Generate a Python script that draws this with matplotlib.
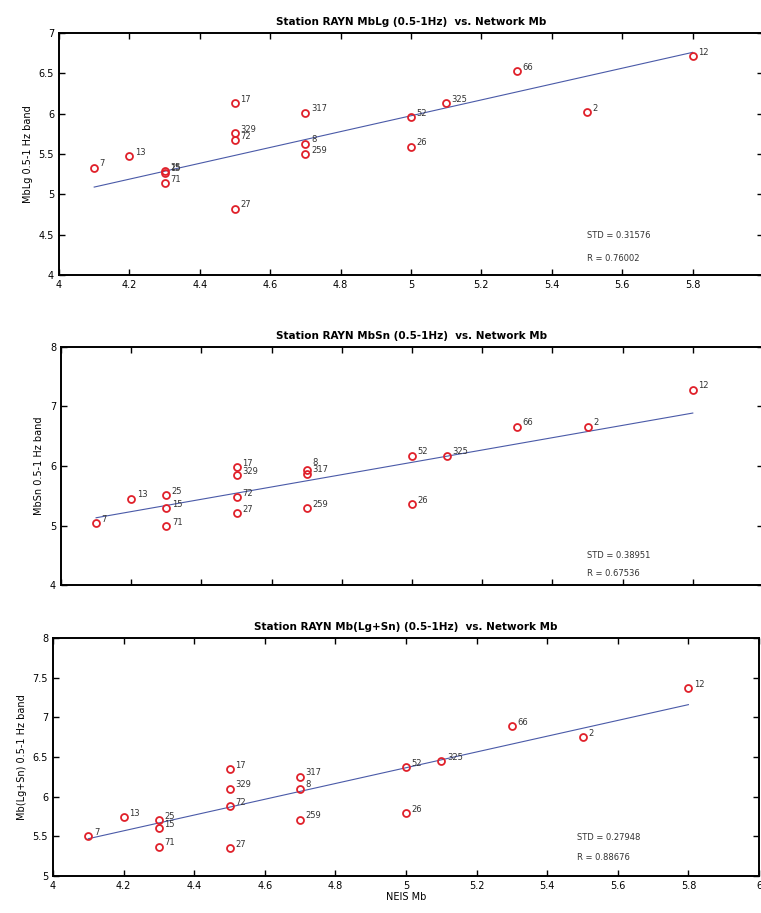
# Station RAYN magnitude comparison, three panels
import numpy as np
import matplotlib.pyplot as plt
from matplotlib.ticker import FormatStrFormatter, MultipleLocator

event_ids = ['7', '13', '25', '15', '71', '17', '329', '72', '27',
             '317', '8', '259', '52', '26', '325', '66', '2', '12']
neis_mb = [4.1, 4.2, 4.3, 4.3, 4.3, 4.5, 4.5, 4.5, 4.5,
           4.7, 4.7, 4.7, 5.0, 5.0, 5.1, 5.3, 5.5, 5.8]

mblg = [5.33, 5.47, 5.29, 5.27, 5.14, 6.13, 5.76, 5.67, 4.82,
        6.01, 5.63, 5.50, 5.96, 5.59, 6.13, 6.53, 6.02, 6.71]
mbsn = [5.04, 5.45, 5.51, 5.29, 4.99, 5.98, 5.85, 5.48, 5.21,
        5.87, 5.93, 5.29, 6.17, 5.36, 6.17, 6.66, 6.66, 7.28]
mblgsn = [5.50, 5.74, 5.70, 5.60, 5.37, 6.35, 6.10, 5.88, 5.35,
          6.25, 6.10, 5.71, 6.37, 5.79, 6.45, 6.89, 6.75, 7.37]

# fitted line, value at Mb 4.1 and at Mb 5.8
fit_x = [4.1, 5.8]
fit_lg = [5.09, 6.76]
fit_sn = [5.13, 6.89]
fit_lgsn = [5.47, 7.16]

titles = ['Station RAYN MbLg (0.5-1Hz)  vs. Network Mb',
          'Station RAYN MbSn (0.5-1Hz)  vs. Network Mb',
          'Station RAYN Mb(Lg+Sn) (0.5-1Hz)  vs. Network Mb']
ylabels = ['MbLg 0.5-1 Hz band', 'MbSn 0.5-1 Hz band', 'Mb(Lg+Sn) 0.5-1 Hz band']
std_text = ['STD = 0.31576', 'STD = 0.38951', 'STD = 0.27948']
r_text = ['R = 0.76002', 'R = 0.67536', 'R = 0.88676']
ylims = [(4, 7), (4, 8), (5, 8)]
ysteps = [0.5, 1, 0.5]

W, H = 761, 913
fig = plt.figure(figsize=(W / 100, H / 100), dpi=100, facecolor='w')

# axes boxes in pixels: left, top, right, bottom
boxes = [(59, 33, 763, 275), (61, 347, 763, 585), (53, 638, 759, 876)]
# where the STD / R notes sit, in pixels
notes = [(587, 235, 258), (587, 555, 573), (577, 837, 857)]

fits = [fit_lg, fit_sn, fit_lgsn]
for k, data in enumerate([mblg, mbsn, mblgsn]):
    l, t, r, b = boxes[k]
    ax = fig.add_axes([l / W, 1 - b / H, (r - l) / W, (b - t) / H])
    ax.plot(fit_x, fits[k], color='#4a5aa8', linewidth=0.8)
    ax.plot(neis_mb, data, 'o', markerfacecolor='none', markeredgecolor='#e0202a',
            markersize=5, markeredgewidth=1.3)
    for xi, yi, lab in zip(neis_mb, data, event_ids):
        dy = 1
        if k == 1 and lab == '8':
            dy = 4  # keep clear of the 317 label
        ax.annotate(lab, (xi, yi), xytext=(4, dy), textcoords='offset points',
                    fontsize=6, color='#333333')
    ax.set_xlim(4, 6)
    ax.set_ylim(*ylims[k])
    ax.xaxis.set_major_locator(MultipleLocator(0.2))
    ax.yaxis.set_major_locator(MultipleLocator(ysteps[k]))
    ax.xaxis.set_major_formatter(FormatStrFormatter('%g'))
    ax.yaxis.set_major_formatter(FormatStrFormatter('%g'))
    ax.tick_params(direction='in', top=True, right=True, length=4,
                   width=1, labelsize=7)
    for s in ax.spines.values():
        s.set_linewidth(1.4)
    if k == 1:
        ax.tick_params(labelbottom=False)
    if k == 0:
        ax.set_xticks(np.arange(4, 5.81, 0.2))
    ax.set_title(titles[k], fontsize=7.5, fontweight='bold', pad=6)
    ax.set_ylabel(ylabels[k], fontsize=7, labelpad=4)
    nx, ny1, ny2 = notes[k]
    fig.text(nx / W, 1 - ny1 / H, std_text[k], fontsize=6, color='#333333', va='center')
    fig.text(nx / W, 1 - ny2 / H, r_text[k], fontsize=6, color='#333333', va='center')

ax.set_xlabel('NEIS Mb', fontsize=7, labelpad=1)

fig.savefig('out.png', dpi=100)
